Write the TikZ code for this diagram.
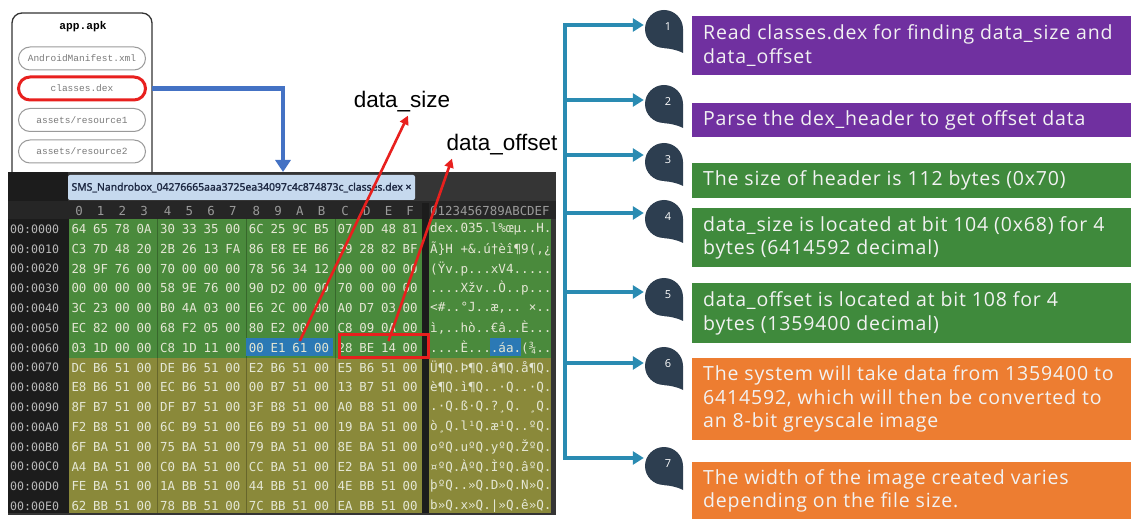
\documentclass[tikz,border=0pt]{standalone}
\usepackage{fontspec}
\usetikzlibrary{arrows.meta,calc}
\newfontfamily\stepfont[LetterSpace=4.2]{Open Sans}
\newfontfamily\numfont{Open Sans}
\newfontfamily\hexfont{DejaVu Sans Mono}
\newfontfamily\apkfont{Liberation Mono}
\newfontfamily\labelfont{Liberation Sans}
\newfontfamily\tabfont[FakeBold=1.6]{Noto Sans}

\definecolor{stepPurple}{HTML}{7030A0}
\definecolor{stepGreen}{HTML}{3F8A3C}
\definecolor{stepOrange}{HTML}{ED7D31}
\definecolor{dropNavy}{HTML}{2D3E50}
\definecolor{branchBlue}{HTML}{2A8BB2}
\definecolor{flowBlue}{HTML}{4472C4}
\definecolor{markRed}{HTML}{E8201E}
\definecolor{winBg}{HTML}{353535}
\definecolor{winDark}{HTML}{1C1C1C}
\definecolor{headBg}{HTML}{262626}
\definecolor{hexGreen}{HTML}{4A8A3C}
\definecolor{hexOlive}{HTML}{8A893A}
\definecolor{hexSel}{HTML}{2B79B5}
\definecolor{hexText}{HTML}{E4E6D4}
\definecolor{headText}{HTML}{9A9A9A}
\definecolor{addrText}{HTML}{B8B8B8}
\definecolor{tabBg}{HTML}{C6D9EE}
\definecolor{tabText}{HTML}{1F2A44}
\definecolor{apkLine}{HTML}{333333}
\definecolor{pillLine}{HTML}{9A9A9A}
\definecolor{pillText}{HTML}{7A7A7A}

\begin{document}
\begin{tikzpicture}[x=1pt,y=-1pt,
  apkbox/.style={draw=apkLine, line width=1.3pt, rounded corners=10pt},
  pill/.style={draw=pillLine, line width=1pt, rounded corners=11.5pt,
    minimum width=127pt, minimum height=23pt, inner sep=0pt,
    font=\apkfont\fontsize{9.5}{11}\selectfont, text=pillText},
  hexbyte/.style={font=\hexfont\fontsize{12.4}{14}\selectfont, text=hexText, inner sep=0pt},
  hexhead/.style={font=\hexfont\fontsize{12.4}{14}\selectfont, text=headText, inner sep=0pt},
  hexaddr/.style={font=\hexfont\fontsize{11.6}{14}\selectfont, text=addrText, inner sep=0pt, anchor=west},
  hexascii/.style={font=\hexfont\fontsize{12.6}{14}\selectfont, text=hexText, inner sep=0pt, anchor=west},
  stepbox/.style={minimum width=439pt, inner sep=0pt, anchor=north west},
  steptext/.style={font=\stepfont\fontsize{19.5}{23.5}\selectfont, text=white!95!black,
    align=left, anchor=west, inner sep=0pt},
  tear/.style={circle, fill=dropNavy, minimum size=38pt, inner sep=0pt},
  tearnum/.style={text=white, font=\numfont\fontsize{11}{12}\selectfont, inner sep=0pt},
  trunk/.style={draw=branchBlue, line width=4pt},
  branch/.style={trunk, -{Triangle[length=11pt,width=13pt]}},
  flow/.style={draw=flowBlue, line width=4.5pt, -{Triangle[length=12pt,width=15pt]}},
  redarrow/.style={draw=markRed, line width=2.6pt, -{Triangle[length=9pt,width=9pt]}},
  pointer/.style={font=\labelfont\fontsize{22.5}{26}\selectfont, text=black, inner sep=0pt}
]
\useasboundingbox (0,0) rectangle (1133,521);

% ---------- the apk container ----------
\draw[apkbox, fill=white] (12,13) rectangle (152,190);
\node[font=\apkfont\bfseries\fontsize{11.2}{13}\selectfont, inner sep=0pt] (apk) at (83,27) {app.apk};
\node[pill] (manifest) at (82,58.5) {AndroidManifest.xml};
\node[pill, draw=markRed, line width=3pt] (dex) at (82,88.5) {classes.dex};
\node[pill] (res1) at (82,120) {assets/resource1};
\node[pill] (res2) at (82,151.5) {assets/resource2};

% ---------- hex editor window ----------
\fill[winBg] (8,172) rectangle (556,515);
\fill[winDark] (8,172) rectangle (68,203);
\fill[headBg] (8,201) rectangle (556,219);
\fill[winDark] (8,219) rectangle (69,515);
\fill[hexGreen] (69,219) rectangle (422,357.6);
\fill[hexOlive] (69,357.6) rectangle (422,513);
\fill[winDark] (422,203) rectangle (429,515);
\fill[hexGreen] (429,219) rectangle (551,357.6);
\fill[hexOlive] (429,357.6) rectangle (551,513);
\foreach \gx in {157,246,335}
  \draw[black, opacity=0.25, line width=1pt] (\gx,219) -- (\gx,513);
% selected bytes
\fill[hexSel] (246,338) rectangle (333,356.5);
\fill[hexSel] (490,338) rectangle (521,356.5);

\node[fill=tabBg, rounded corners=2pt, minimum width=347pt, minimum height=25pt,
  inner sep=0pt, text=tabText, font=\tabfont\fontsize{10.4}{13}\selectfont] (tab) at (241.5,187.5)
  {SMS\_Nandrobox\_04276665aaa3725ea34097c4c874873c\_classes.dex ×};

% column header
\foreach \c [count=\j from 0] in {0,1,2,3,4,5,6,7,8,9,A,B,C,D,E,F} {
  \pgfmathsetmacro{\xx}{79+88.7*int(\j/4)+21.7*mod(\j,4)}
  \node[hexhead] (hd\j) at (\xx,211) {\c};
}
\node[hexhead, anchor=west] (hdascii) at (430,211) {0123456789ABCDEF};

% byte rows
\foreach \r/\addr/\bytes in {
  0/0000/{64,65,78,0A,30,33,35,00,6C,25,9C,B5,07,0D,48,81},
  1/0010/{C3,7D,48,20,2B,26,13,FA,86,E8,EE,B6,39,28,82,BF},
  2/0020/{28,9F,76,00,70,00,00,00,78,56,34,12,00,00,00,00},
  3/0030/{00,00,00,00,58,9E,76,00,90,D2,00,00,70,00,00,00},
  4/0040/{3C,23,00,00,B0,4A,03,00,E6,2C,00,00,A0,D7,03,00},
  5/0050/{EC,82,00,00,68,F2,05,00,80,E2,00,00,C8,09,0A,00},
  6/0060/{03,1D,00,00,C8,1D,11,00,00,E1,61,00,28,BE,14,00},
  7/0070/{DC,B6,51,00,DE,B6,51,00,E2,B6,51,00,E5,B6,51,00},
  8/0080/{E8,B6,51,00,EC,B6,51,00,00,B7,51,00,13,B7,51,00},
  9/0090/{8F,B7,51,00,DF,B7,51,00,3F,B8,51,00,A0,B8,51,00},
  10/00A0/{F2,B8,51,00,6C,B9,51,00,E6,B9,51,00,19,BA,51,00},
  11/00B0/{6F,BA,51,00,75,BA,51,00,79,BA,51,00,8E,BA,51,00},
  12/00C0/{A4,BA,51,00,C0,BA,51,00,CC,BA,51,00,E2,BA,51,00},
  13/00D0/{FE,BA,51,00,1A,BB,51,00,44,BB,51,00,4E,BB,51,00},
  14/00E0/{62,BB,51,00,78,BB,51,00,7C,BB,51,00,EA,BB,51,00}} {
  \pgfmathsetmacro{\yy}{229+19.8*\r}
  \node[hexaddr] (ad\r) at (10,\yy) {00:\addr};
  \foreach \b [count=\j from 0] in \bytes {
    \pgfmathsetmacro{\xx}{79+88.7*int(\j/4)+21.7*mod(\j,4)}
    \node[hexbyte] (h\r-\j) at (\xx,\yy) {\b};
  }
}

% decoded text pane
\node[hexascii] (as0)  at (430,229.0) {dex.035.l\%œµ..H.};
\node[hexascii] (as1)  at (430,248.8) {Ã\}H +\&.ú†èî¶9(‚¿};
\node[hexascii] (as2)  at (430,268.6) {(Ÿv.p...xV4.....};
\node[hexascii] (as3)  at (430,288.4) {....Xžv..Ò..p...};
\node[hexascii] (as4)  at (430,308.2) {<\#..°J..æ,..~×..};
\node[hexascii] (as5)  at (430,328.0) {ì‚..hò..€â..È...};
\node[hexascii] (as6)  at (430,347.8) {....È....áa.(¾..};
\node[hexascii] (as7)  at (430,367.6) {Ü¶Q.Þ¶Q.â¶Q.å¶Q.};
\node[hexascii] (as8)  at (430,387.4) {è¶Q.ì¶Q..·Q..·Q.};
\node[hexascii] (as9)  at (430,407.2) {.·Q.ß·Q.?¸Q.~¸Q.};
\node[hexascii] (as10) at (430,427.0) {ò¸Q.l¹Q.æ¹Q..ºQ.};
\node[hexascii] (as11) at (430,446.8) {oºQ.uºQ.yºQ.ŽºQ.};
\node[hexascii] (as12) at (430,466.6) {¤ºQ.ÀºQ.ÌºQ.âºQ.};
\node[hexascii] (as13) at (430,486.4) {þºQ..»Q.D»Q.N»Q.};
\node[hexascii] (as14) at (430,506.2) {b»Q.x»Q.|»Q.ê»Q.};
\fill[winBg] (8,513) rectangle (556,515);

% classes.dex -> editor
\coordinate (tabpt) at (283,172);
\draw[flow] ([xshift=5pt]dex.east) -| (tabpt);

% offset field marker and pointer labels
\node[draw=markRed, line width=3pt, minimum width=89pt, minimum height=23pt, inner sep=0pt] (offbox) at (383.5,346.5) {};
\node[pointer] (dsize) at (402,102) {data\_size};
\node[pointer] (doff) at (502,145) {data\_offset};
\draw[redarrow] ([yshift=2pt]h6-10.north) -- ([xshift=6pt,yshift=-3pt]dsize.south);
\draw[redarrow] ([yshift=2pt]h6-14.north) -- ([xshift=-50pt,yshift=-3pt]doff.south);

% ---------- numbered steps ----------
\foreach \i/\by/\cy in {1/25/29, 2/100/104, 3/155/162, 4/213/219, 5/292/297, 6/363/366, 7/458/466} {
  \node[tear] (c\i) at (664,\cy) {};
  \fill[dropNavy] (c\i.center) -- (c\i.east) -- ([yshift=-24pt]c\i.east)
    .. controls ([shift={(-6pt,-21pt)}]c\i.east) and ([shift={(-13pt,-19.5pt)}]c\i.east) .. (c\i.south) -- cycle;
  \node[tearnum] (n\i) at ([xshift=4pt,yshift=2pt]c\i.center) {\i};
  \coordinate (k\i) at (565,\by);
  \draw[branch, shorten >=1pt] (k\i) -- (k\i -| c\i.west);
}
\draw[trunk, line cap=rect] (k1) -- (k7);

\node[stepbox, fill=stepPurple, minimum height=59pt] (b1) at (692,16) {};
\node[stepbox, fill=stepPurple, minimum height=34pt] (b2) at (692,103) {};
\node[stepbox, fill=stepGreen, minimum height=35pt] (b3) at (692,163) {};
\node[stepbox, fill=stepGreen, minimum height=59pt] (b4) at (692,208) {};
\node[stepbox, fill=stepGreen, minimum height=60pt] (b5) at (692,283) {};
\node[stepbox, fill=stepOrange, minimum height=82pt] (b6) at (692,358) {};
\node[stepbox, fill=stepOrange, minimum height=57pt] (b7) at (692,462) {};

\node[steptext] (t1) at ([xshift=11pt]b1.west) {Read classes.dex for finding data\_size and\\data\_offset};
\node[steptext] (t2) at ([xshift=11pt]b2.west) {Parse the dex\_header to get offset data};
\node[steptext] (t3) at ([xshift=11pt]b3.west) {The size of header is 112 bytes (0x70)};
\node[steptext] (t4) at ([xshift=11pt]b4.west) {data\_size is located at bit 104 (0x68) for 4\\bytes (6414592 decimal)};
\node[steptext] (t5) at ([xshift=11pt]b5.west) {data\_offset is located at bit 108 for 4\\bytes (1359400 decimal)};
\node[steptext] (t6) at ([xshift=11pt]b6.west) {The system will take data from 1359400 to\\6414592, which will then be converted to\\an 8-bit greyscale image};
\node[steptext] (t7) at ([xshift=11pt]b7.west) {The width of the image created varies\\depending on the file size.};
\end{tikzpicture}
\end{document}
